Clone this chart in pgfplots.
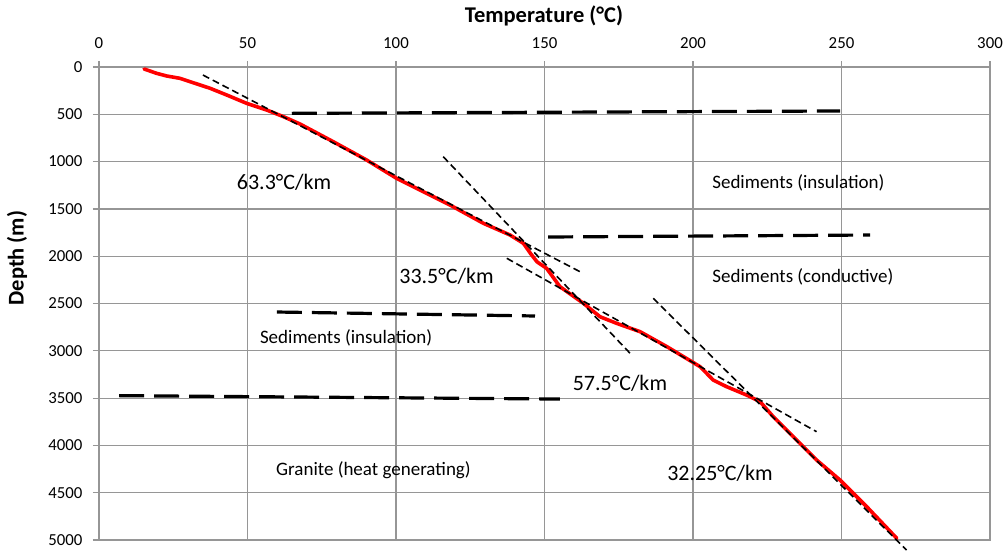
\documentclass[border=0pt]{standalone}
\usepackage{fontspec}
\setmainfont{Carlito}
\usepackage{pgfplots}
\pgfplotsset{compat=1.18}
\definecolor{gridgray}{RGB}{150,150,150}
\begin{document}
\begin{tikzpicture}
\begin{axis}[
  scale only axis, width=891pt, height=473pt,
  xmin=0, xmax=300, ymin=0, ymax=5000,
  y dir=reverse,
  xtick={0,50,...,300}, ytick={0,500,...,5000},
  xtick pos=upper, xticklabel pos=upper, ytick pos=left,
  tick align=outside, major tick length=6pt,
  grid=major,
  grid style={gridgray, line width=1.2pt},
  axis line style={gridgray, line width=1.2pt},
  tick style={gridgray, line width=1.2pt},
  ticklabel style={font=\fontsize{16.8pt}{19pt}\selectfont, text=black},
  xticklabel style={yshift=9pt},
  yticklabel style={xshift=-7pt},
  /pgf/number format/assume math mode=true,
  /pgf/number format/1000 sep={},
  xlabel={\textbf{Temperature (°C)}},
  xlabel style={font=\fontsize{22.5pt}{26pt}\selectfont, at={(axis description cs:0.4994,1.108)}, anchor=center},
  ylabel={\textbf{Depth (m)}},
  ylabel style={font=\fontsize{22.5pt}{26pt}\selectfont, at={(axis description cs:-0.092,0.596)}, anchor=center},
  clip=false,
]
% measured temperature profile
\addplot[red, line width=3.6pt, line join=round, line cap=round] coordinates {
 (15.2,21) (19.4,67) (22.8,95) (27.3,120) (31.7,166) (37.4,225) (43.0,296)
 (49.7,384) (56.5,455) (62.1,525) (67.7,603) (78.9,790) (90.1,983) (100.2,1177)
 (118.2,1459) (129.4,1652) (138.4,1776) (142.9,1864) (145.5,1980) (147.5,2060) (150.7,2128)
 (155.2,2322) (163.1,2498) (168.7,2640) (174.3,2710) (182.2,2798) (191.2,2956)
 (202.4,3168) (206.8,3309) (211.3,3379) (218.0,3467) (222.6,3538) (227.0,3696)
 (236.0,3978) (239.4,4084) (241.6,4154) (249.5,4366) (258.5,4648) (268.6,4982)
};
% gradient tangent lines
\addplot[black, line width=1.6pt, dash pattern=on 7pt off 4pt] coordinates {(35,85) (163,2181)};
\addplot[black, line width=1.6pt, dash pattern=on 7pt off 4pt] coordinates {(115.9,948) (178.8,3026)};
\addplot[black, line width=1.6pt, dash pattern=on 7pt off 4pt] coordinates {(137.3,2022) (241.6,3855)};
\addplot[black, line width=1.6pt, dash pattern=on 7pt off 4pt] coordinates {(186.6,2445) (271.9,5106)};
% layer boundaries
\addplot[black, line width=3.2pt, dash pattern=on 25pt off 10pt] coordinates {(64.9,490) (249.5,465)};
\addplot[black, line width=3.2pt, dash pattern=on 25pt off 10pt] coordinates {(151.2,1797) (259.6,1776)};
\addplot[black, line width=3.2pt, dash pattern=on 25pt off 10pt] coordinates {(59.9,2590) (146.8,2632)};
\addplot[black, line width=3.2pt, dash pattern=on 25pt off 10pt] coordinates {(6.8,3474) (155.2,3510)};
% labels
\node[font=\fontsize{22pt}{26pt}\selectfont] at (axis cs:62.3,1223) {63.3°C/km};
\node[font=\fontsize{22pt}{26pt}\selectfont] at (axis cs:117,2217) {33.5°C/km};
\node[font=\fontsize{22pt}{26pt}\selectfont] at (axis cs:175.4,3340) {57.5°C/km};
\node[font=\fontsize{22pt}{26pt}\selectfont] at (axis cs:209.1,4295) {32.25°C/km};
\node[font=\fontsize{19pt}{22pt}\selectfont] at (axis cs:235.5,1223) {Sediments (insulation)};
\node[font=\fontsize{19pt}{22pt}\selectfont] at (axis cs:237,2217) {Sediments (conductive)};
\node[font=\fontsize{19pt}{22pt}\selectfont] at (axis cs:83.2,2865) {Sediments (insulation)};
\node[font=\fontsize{19pt}{22pt}\selectfont] at (axis cs:92.4,4260) {Granite (heat generating)};
\end{axis}
\pgfresetboundingbox
\path ([shift={(-99pt,-11pt)}]current axis.south west) rectangle ([shift={(17pt,67pt)}]current axis.north east);
\end{tikzpicture}
\end{document}
